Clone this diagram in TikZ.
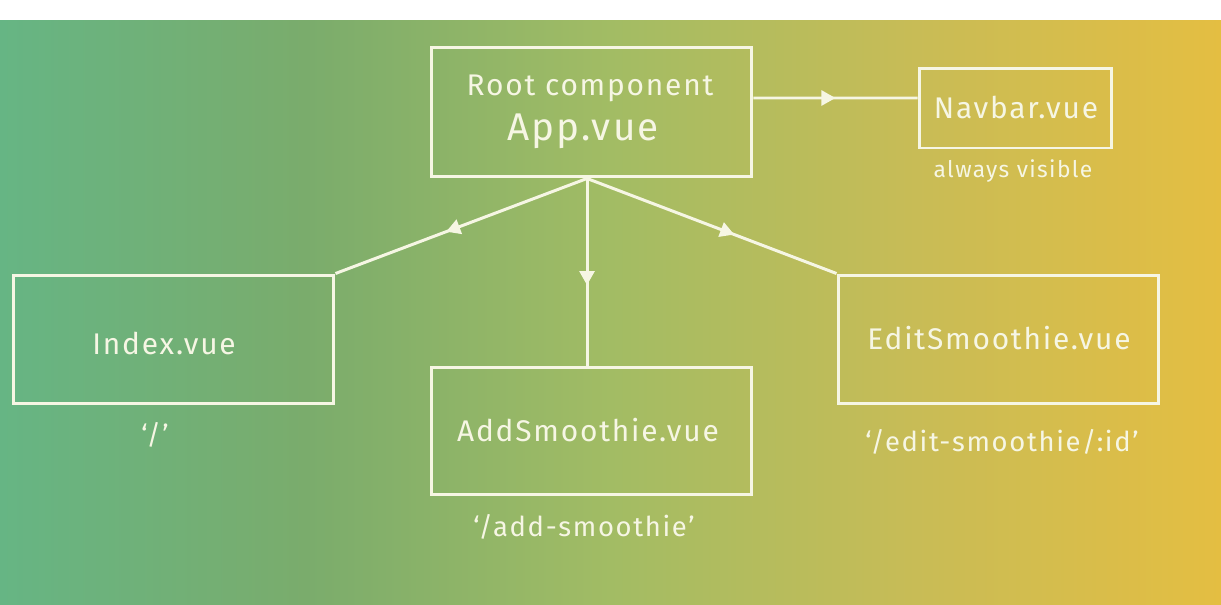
\documentclass[tikz,border=0pt]{standalone}
\usepackage{fontspec}
\setmainfont{Fira Sans}
\newfontfamily\lbl[LetterSpace=6]{Fira Sans}
\usetikzlibrary{decorations.markings,arrows.meta}
\definecolor{ink}{RGB}{246,246,228}
\definecolor{gA}{RGB}{102,181,132}
\definecolor{gB}{RGB}{122,172,108}
\definecolor{gC}{RGB}{162,188,100}
\definecolor{gD}{RGB}{200,188,86}
\definecolor{gE}{RGB}{228,190,66}
\pgfdeclarehorizontalshading{bgshade}{100bp}{color(0bp)=(gA); color(25bp)=(gA); color(37.5bp)=(gB); color(50bp)=(gC); color(62.5bp)=(gD); color(75bp)=(gE); color(100bp)=(gE)}
\tikzset{
  box/.style={draw=ink, line width=1.7pt, inner sep=0pt},
  txt/.style={text=ink, inner sep=0pt, font=\lbl\fontsize{17}{20}\selectfont},
  route/.style={text=ink, inner sep=0pt, font=\lbl\fontsize{15.6}{19}\selectfont},
  small/.style={text=ink, inner sep=0pt, font=\lbl\fontsize{13}{16}\selectfont},
  big/.style={text=ink, inner sep=0pt, font=\lbl\fontsize{22}{26}\selectfont},
  conn/.style={draw=ink, line width=1.7pt, postaction={decorate},
    decoration={markings, mark=at position #1 with {\arrow{Triangle[length=8pt,width=8.5pt]}}}},
  conn/.default=0.57
}
\begin{document}
\begin{tikzpicture}[x=0.02cm,y=-0.02cm]
\useasboundingbox (0,0) rectangle (1221,605);
\fill[white] (0,0) rectangle (1221,20);
\shade[shading=bgshade] (0,20) rectangle (1221,605);

\node[box, minimum width=6.42cm, minimum height=2.6cm] (root) at (591.5,112) {};
\node[box, minimum width=3.86cm, minimum height=1.6cm] (navbar) at (1015.5,108) {};
\node[box, minimum width=6.42cm, minimum height=2.58cm] (index) at (173.5,339.5) {};
\node[box, minimum width=6.42cm, minimum height=2.56cm] (add) at (591.5,431) {};
\node[box, minimum width=6.42cm, minimum height=2.58cm] (edit) at (998.5,339.5) {};

\node[txt] (rootT) at (590,88) {Root component};
\node[big] (appT) at (583,131) {App.vue};
\node[txt] (navT) at (1016,107) {Navbar.vue};
\node[small] (navS) at (1013,171) {always visible};
\node[txt] (indexT) at (164,343) {Index.vue};
\node[route] (indexS) at (155,435) {‘/’};
\node[txt] (addT) at (588,430) {AddSmoothie.vue};
\node[route] (addS) at (584,527) {‘/add-smoothie’};
\node[txt] (editT) at (999,338) {EditSmoothie.vue};
\node[route] (editS) at (1002,442) {‘/edit-smoothie/:id’};

\draw[conn=0.56] ([xshift=-0.09cm]root.south) -- (index.north east);
\draw[conn=0.59] ([xshift=-0.09cm]root.south) -- (edit.north west);
\draw[conn=0.57] ([xshift=-0.09cm]root.south) -- ([xshift=-0.09cm]add.north);
\draw[conn=0.5] ([yshift=0.28cm]root.east) -- ([yshift=0.2cm]navbar.west);
\end{tikzpicture}
\end{document}
